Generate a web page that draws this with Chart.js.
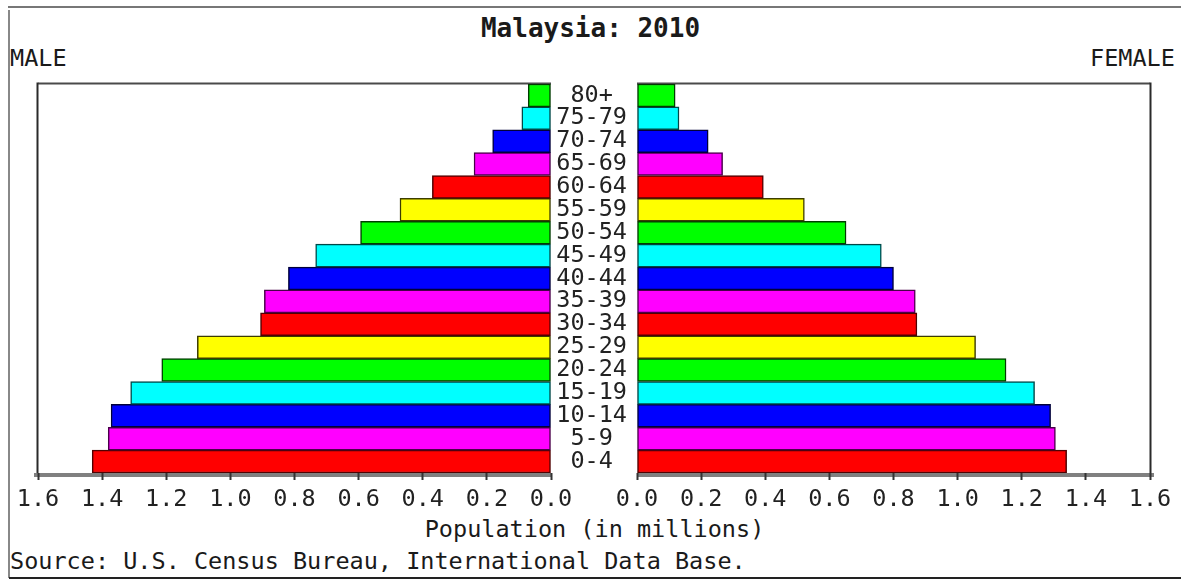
<!DOCTYPE html>
<html>
<head>
<meta charset="utf-8">
<script src="https://cdn.jsdelivr.net/npm/chart.js@4.4.1/dist/chart.umd.min.js"></script>
<style>
html,body{margin:0;padding:0;background:#fff;}
#wrap{position:relative;width:1181px;height:581px;overflow:hidden;font-family:"DejaVu Sans Mono",monospace;color:#1a1a1a;}
canvas{position:absolute;top:0;}
.ln{position:absolute;}
.t{position:absolute;white-space:nowrap;line-height:1;font-size:23.5px;}
</style>
</head>
<body>
<div id="wrap">
  <div class="ln" style="left:8px;top:6px;width:1173px;height:2px;background:#777;"></div>
  <div class="ln" style="left:8px;top:10px;width:2px;height:568px;background:#888;"></div>
  <div class="ln" style="left:9px;top:577px;width:1172px;height:2px;background:#222;"></div>
  <div class="t" id="title" style="left:0;width:1181px;text-align:center;top:15px;font-size:26px;font-weight:bold;">Malaysia: 2010</div>
  <div class="t" style="left:10px;top:47px;">MALE</div>
  <div class="t" style="left:1090px;top:47px;">FEMALE</div>
  <div class="t" style="left:0;width:1189px;text-align:center;top:518px;">Population (in millions)</div>
  <div class="t" style="left:10px;top:550px;">Source: U.S. Census Bureau, International Data Base.</div>
  <canvas id="cL" width="600" height="581" style="left:0;width:600px;height:581px;"></canvas>
  <canvas id="cR" width="630" height="581" style="left:551px;width:630px;height:581px;"></canvas>
</div>
<script>
// ---- data ----
const ageGroups = ['0-4','5-9','10-14','15-19','20-24','25-29','30-34','35-39','40-44','45-49','50-54','55-59','60-64','65-69','70-74','75-79','80+'];
const maleValues = [1.431,1.381,1.372,1.311,1.214,1.103,0.906,0.894,0.819,0.734,0.594,0.471,0.370,0.240,0.182,0.091,0.071];
const femaleValues = [1.340,1.305,1.290,1.240,1.151,1.056,0.873,0.868,0.800,0.762,0.652,0.522,0.394,0.267,0.222,0.131,0.119];
const axisMax = 1.6;
const axisStep = 0.2;

// ---- styles ----
const palette = ['#ff0000','#ff00ff','#0000ff','#00ffff','#00ff00','#ffff00'];
const paletteDark = ['#500000','#4a004a','#00003a','#004848','#003c00','#3c3c00'];
const fills = ageGroups.map((_, i) => palette[i % palette.length]);
const edges = ageGroups.map((_, i) => paletteDark[i % paletteDark.length]);
const FONT = '"DejaVu Sans Mono", monospace';

const framePlugin = {
  id: 'frame',
  beforeDraw(chart, args, opts) {
    const {ctx, chartArea: a} = chart;
    ctx.save();
    // bottom gray axis bar
    ctx.fillStyle = '#808080';
    ctx.fillRect(a.left - (opts.side === 'left' ? 4 : 0), a.bottom, a.right - a.left + 4, 4);
    ctx.restore();
  },
  beforeDatasetsDraw(chart, args, opts) {
    const {ctx, chartArea: a} = chart;
    ctx.save();
    ctx.lineWidth = 2;
    ctx.strokeStyle = '#4a4a4a';
    ctx.beginPath();
    ctx.moveTo(a.left, a.top - 0.5);
    ctx.lineTo(a.right, a.top - 0.5);
    ctx.stroke();
    ctx.strokeStyle = '#2a2a2a';
    ctx.beginPath();
    if (opts.side === 'left') {
      ctx.moveTo(a.left - 0.5, a.top - 1.5);
      ctx.lineTo(a.left - 0.5, a.bottom);
    } else {
      ctx.moveTo(a.right + 0.5, a.top - 1.5);
      ctx.lineTo(a.right + 0.5, a.bottom);
    }
    ctx.stroke();
    ctx.restore();
  }
};

function xScale(reverse) {
  return {
    type: 'linear',
    min: 0,
    max: axisMax,
    reverse: reverse,
    afterFit(s) { s.height = 60; },
    ticks: {
      stepSize: axisStep,
      color: '#222',
      font: {family: FONT, size: 23.5},
      padding: 6,
      maxRotation: 0,
      autoSkip: false,
      callback: (v) => Number(v).toFixed(1)
    },
    grid: {
      display: true,
      drawOnChartArea: false,
      drawTicks: true,
      tickLength: 7,
      tickWidth: 2,
      tickColor: '#333'
    },
    border: {display: false}
  };
}

function barDataset(values) {
  return {
    data: values,
    backgroundColor: fills,
    borderColor: edges,
    borderWidth: 1.5,
    borderSkipped: false,
    barPercentage: 1,
    categoryPercentage: 1
  };
}

new Chart(document.getElementById('cL'), {
  type: 'bar',
  data: {labels: ageGroups, datasets: [barDataset(maleValues)]},
  options: {
    indexAxis: 'y',
    responsive: false,
    animation: false,
    events: [],
    layout: {padding: {left: 38, right: 49, top: 84, bottom: 48}},
    plugins: {legend: {display: false}, tooltip: {enabled: false}, frame: {side: 'left'}},
    scales: {
      x: xScale(true),
      y: {type: 'category', reverse: true, display: false}
    }
  },
  plugins: [framePlugin]
});

new Chart(document.getElementById('cR'), {
  type: 'bar',
  data: {labels: ageGroups, datasets: [barDataset(femaleValues)]},
  options: {
    indexAxis: 'y',
    responsive: false,
    animation: false,
    events: [],
    layout: {padding: {left: 0, right: 31, top: 84, bottom: 48}},
    plugins: {legend: {display: false}, tooltip: {enabled: false}, frame: {side: 'right'}},
    scales: {
      x: xScale(false),
      y: {
        type: 'category',
        reverse: true,
        position: 'left',
        afterFit(s) { s.width = 86; },
        ticks: {
          color: '#222',
          font: {family: FONT, size: 23.5},
          crossAlign: 'center',
          padding: 10,
          autoSkip: false
        },
        grid: {display: false, drawTicks: false},
        border: {display: false}
      }
    }
  },
  plugins: [framePlugin]
});
</script>
</body>
</html>
